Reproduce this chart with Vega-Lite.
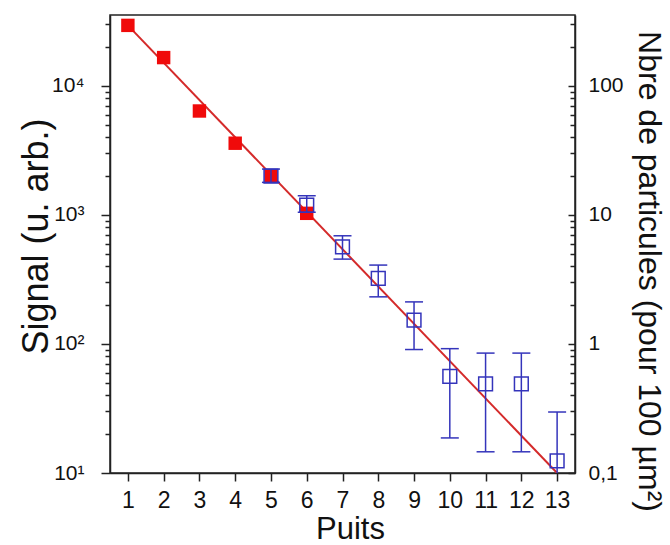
{
  "$schema": "https://vega.github.io/schema/vega-lite/v6.json",
  "width": 465,
  "height": 458,
  "autosize": "none",
  "padding": {"left": 110, "top": 15, "right": 95, "bottom": 72},
  "background": "white",
  "config": {
    "view": {"stroke": "#222", "strokeWidth": 1.5},
    "axis": {
      "grid": false,
      "domainColor": "#222",
      "domainWidth": 1.5,
      "tickColor": "#222",
      "tickWidth": 1.5,
      "labelColor": "#111",
      "titleColor": "#111",
      "labelFont": "Liberation Sans",
      "titleFont": "Liberation Sans",
      "titleFontWeight": "normal"
    }
  },
  "datasets": {
    "red": [
      {"puits": 1, "signal": 29500},
      {"puits": 2, "signal": 16600},
      {"puits": 3, "signal": 6400},
      {"puits": 4, "signal": 3600},
      {"puits": 5, "signal": 2000},
      {"puits": 6, "signal": 1030}
    ],
    "fit": [
      {"puits": 1, "signal": 29500},
      {"puits": 13, "signal": 10}
    ],
    "blue": [
      {"puits": 5, "p": 20.0, "lo": 17.9, "hi": 22.7},
      {"puits": 6, "p": 11.9, "lo": 10.5, "hi": 14.1},
      {"puits": 7, "p": 5.67, "lo": 4.55, "hi": 6.9},
      {"puits": 8, "p": 3.22, "lo": 2.32, "hi": 4.09},
      {"puits": 9, "p": 1.53, "lo": 0.906, "hi": 2.12},
      {"puits": 10, "p": 0.56, "lo": 0.187, "hi": 0.92},
      {"puits": 11, "p": 0.49, "lo": 0.146, "hi": 0.85},
      {"puits": 12, "p": 0.49, "lo": 0.146, "hi": 0.85},
      {"puits": 13, "p": 0.124, "lo": 0.05, "hi": 0.297}
    ]
  },
  "encoding": {
    "x": {
      "field": "puits", "type": "quantitative",
      "scale": {"domain": [0.5, 13.5], "nice": false, "zero": false},
      "axis": {
        "title": "Puits",
        "values": [1,2,3,4,5,6,7,8,9,10,11,12,13],
        "tickCount": 13,
        "tickSize": 8,
        "labelFontSize": 23,
        "labelPadding": 8,
        "labelFlush": false,
        "labelOverlap": false,
        "titleFontSize": 31,
        "titleX": 240,
        "titleY": 65,
        "titleBaseline": "alphabetic",
        "titleAnchor": "middle"
      }
    }
  },
  "layer": [
    {
      "layer": [
        {
          "data": {"name": "fit"},
          "mark": {"type": "line", "color": "#d42a2a", "strokeWidth": 2, "clip": true},
          "encoding": {
            "y": {
              "field": "signal", "type": "quantitative",
              "scale": {"type": "log", "domain": [10, 35500], "nice": false},
              "axis": {
                "title": "Signal (u. arb.)",
                "orient": "left",
                "values": [10,20,30,40,50,60,70,80,90,100,200,300,400,500,600,700,800,900,1000,2000,3000,4000,5000,6000,7000,8000,9000,10000,20000,30000],
                "labelExpr": "datum.value == 10 ? '10¹' : datum.value == 100 ? '10²' : datum.value == 1000 ? '10³' : datum.value == 10000 ? '10⁴' : ''",
                "tickSize": {"condition": {"test": "indexof([10,100,1000,10000], datum.value) >= 0", "value": 9}, "value": 5},
                "labelPadding": 17,
                "labelFontSize": 21,
                "labelFlush": false,
                "labelOverlap": false,
                "titleFontSize": 36,
                "titleAngle": -90,
                "titleBaseline": "middle",
                "titleAlign": "center",
                "titleX": -74,
                "titleY": 221
              }
            }
          }
        },
        {
          "data": {"name": "red"},
          "mark": {"type": "point", "shape": "square", "filled": true, "size": 180, "color": "#f00a0a", "opacity": 1},
          "encoding": {
            "y": {"field": "signal", "type": "quantitative", "title": "Signal (u. arb.)"}
          }
        }
      ]
    },
    {
      "data": {"name": "blue"},
      "layer": [
        {
          "mark": {"type": "point", "shape": "square", "filled": false, "size": 190, "color": "#3434bb", "strokeWidth": 1.5, "opacity": 1},
          "encoding": {
            "y": {
              "field": "p", "type": "quantitative",
              "scale": {"type": "log", "domain": [0.1, 355], "nice": false},
              "axis": {
                "title": "Nbre de particules (pour 100 µm²)",
                "orient": "right",
                "values": [0.1,0.2,0.3,0.4,0.5,0.6,0.7,0.8,0.9,1,2,3,4,5,6,7,8,9,10,20,30,40,50,60,70,80,90,100,200,300],
                "labelExpr": "datum.value == 0.1 ? '0,1' : datum.value == 1 ? '1' : datum.value == 10 ? '10' : datum.value == 100 ? '100' : ''",
                "tickSize": {"condition": {"test": "indexof([0.1,1,10,100], datum.value) >= 0", "value": -7}, "value": -5},
                "labelPadding": 20,
                "labelFontSize": 21,
                "labelFlush": false,
                "labelOverlap": false,
                "titleFontSize": 32,
                "titleAngle": 90,
                "titleBaseline": "middle",
                "titleAlign": "center",
                "titleX": 73,
                "titleY": 256
              }
            }
          }
        },
        {
          "mark": {"type": "rule", "color": "#3434bb", "strokeWidth": 1.5, "clip": true},
          "encoding": {
            "y": {"field": "lo", "type": "quantitative", "title": "Nbre de particules (pour 100 µm²)"},
            "y2": {"field": "hi"}
          }
        },
        {
          "mark": {"type": "tick", "orient": "horizontal", "size": 18, "thickness": 1.5, "color": "#3434bb", "opacity": 1, "clip": true},
          "encoding": {
            "y": {"field": "hi", "type": "quantitative", "title": "Nbre de particules (pour 100 µm²)"}
          }
        },
        {
          "mark": {"type": "tick", "orient": "horizontal", "size": 18, "thickness": 1.5, "color": "#3434bb", "opacity": 1, "clip": true},
          "encoding": {
            "y": {"field": "lo", "type": "quantitative", "title": "Nbre de particules (pour 100 µm²)"}
          }
        }
      ]
    }
  ],
  "resolve": {"scale": {"y": "independent"}}
}
